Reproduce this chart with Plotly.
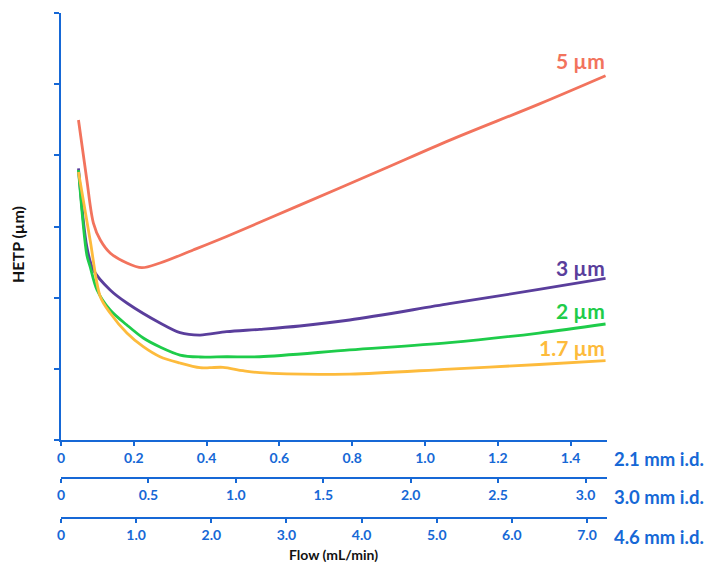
import plotly.graph_objects as go

# Flow on the 2.1 mm i.d. scale (mL/min) and HETP in relative units
flow_5 = [0.048, 0.071, 0.089, 0.108, 0.135, 0.181, 0.222, 0.272, 0.363, 0.455, 0.656, 0.883, 1.067, 1.313, 1.496]
hetp_5 = [4.496, 3.653, 3.049, 2.810, 2.628, 2.487, 2.421, 2.487, 2.670, 2.860, 3.300, 3.800, 4.210, 4.720, 5.119]

flow_3 = [0.048, 0.071, 0.089, 0.135, 0.181, 0.272, 0.327, 0.382, 0.455, 0.546, 0.656, 0.793, 1.067, 1.313, 1.496]
hetp_3 = [3.818, 2.716, 2.389, 2.108, 1.925, 1.644, 1.508, 1.475, 1.522, 1.555, 1.602, 1.686, 1.915, 2.115, 2.272]

flow_2 = [0.048, 0.071, 0.080, 0.099, 0.135, 0.181, 0.226, 0.272, 0.327, 0.382, 0.455, 0.546, 0.793, 1.067, 1.313, 1.496]
hetp_2 = [3.794, 2.599, 2.435, 2.108, 1.827, 1.616, 1.433, 1.307, 1.194, 1.166, 1.170, 1.170, 1.265, 1.367, 1.503, 1.630]

flow_17 = [0.048, 0.080, 0.108, 0.135, 0.181, 0.226, 0.272, 0.327, 0.382, 0.409, 0.445, 0.500, 0.546, 0.793, 1.067, 1.313, 1.496]
hetp_17 = [3.766, 2.810, 2.013, 1.784, 1.503, 1.311, 1.170, 1.082, 1.016, 1.016, 1.021, 0.974, 0.946, 0.927, 0.997, 1.061, 1.114]

series_names = ["5 µm", "3 µm", "2 µm", "1.7 µm"]
series_colors = ["#F2735D", "#5A3E9C", "#1ECC4A", "#FDBB3C"]

ticks_21 = [0, 0.2, 0.4, 0.6, 0.8, 1.0, 1.2, 1.4]
labels_21 = ["0", "0.2", "0.4", "0.6", "0.8", "1.0", "1.2", "1.4"]
ticks_30 = [0, 0.5, 1.0, 1.5, 2.0, 2.5, 3.0]
labels_30 = ["0", "0.5", "1.0", "1.5", "2.0", "2.5", "3.0"]
ticks_46 = [0, 1, 2, 3, 4, 5, 6, 7]
labels_46 = ["0", "1.0", "2.0", "3.0", "4.0", "5.0", "6.0", "7.0"]
axis_names = ["2.1 mm i.d.", "3.0 mm i.d.", "4.6 mm i.d."]
y_ticks = [0, 1, 2, 3, 4, 5, 6]

BLUE = "#1668D6"
FONT = "Lato"

fig = go.Figure()
for fx, hy, name, col in zip([flow_5, flow_3, flow_2, flow_17],
                             [hetp_5, hetp_3, hetp_2, hetp_17],
                             series_names, series_colors):
    fig.add_trace(go.Scatter(x=fx, y=hy, mode="lines", name=name,
                             line=dict(color=col, width=2.8, shape="spline", smoothing=0.9),
                             showlegend=False, hoverinfo="skip"))

# helper traces so the extra flow scales render
fig.add_trace(go.Scatter(x=ticks_30, y=[None] * len(ticks_30), xaxis="x2", yaxis="y",
                         mode="markers", showlegend=False, hoverinfo="skip"))
fig.add_trace(go.Scatter(x=ticks_46, y=[None] * len(ticks_46), xaxis="x3", yaxis="y",
                         mode="markers", showlegend=False, hoverinfo="skip"))

H = 562
T, B = 13, 20
ph = H - T - B

def py(pix):
    return (H - B - pix) / ph

tickfont = dict(family=FONT, size=14, color=BLUE, weight="bold")
common = dict(showgrid=False, zeroline=False, showline=True, linecolor=BLUE, linewidth=2,
              ticks="outside", ticklen=4, tickwidth=2, tickcolor=BLUE, tickfont=tickfont)

fig.update_layout(
    width=710, height=H,
    margin=dict(l=61, r=103, t=T, b=B),
    paper_bgcolor="white", plot_bgcolor="white",
    xaxis=dict(range=[0, 1.5], tickvals=ticks_21, ticktext=labels_21, anchor="y", **common),
    xaxis2=dict(range=[0, 3.123], tickvals=ticks_30, ticktext=labels_30, overlaying="x",
                anchor="free", position=py(478), **common),
    xaxis3=dict(range=[0, 7.266], tickvals=ticks_46, ticktext=labels_46, overlaying="x",
                anchor="free", position=py(518), **common),
    yaxis=dict(range=[0, 6], tickvals=y_ticks, showticklabels=False, domain=[py(440), 1],
               showgrid=False, zeroline=False, showline=True, linecolor=BLUE, linewidth=2,
               ticks="outside", ticklen=5, tickwidth=2, tickcolor=BLUE),
)

# curve labels
for name, col, ypix in zip(series_names, series_colors, [61, 267, 310, 347]):
    fig.add_annotation(text=name, x=1.0, xref="paper", xanchor="right",
                       y=py(ypix), yref="paper", yanchor="middle", showarrow=False,
                       font=dict(family=FONT, size=21, color=col, weight="bold"))

# column i.d. labels
for name, ypix in zip(axis_names, [459, 497, 537]):
    fig.add_annotation(text=name, x=(612 - 61) / 546, xref="paper", xanchor="left",
                       y=py(ypix), yref="paper", yanchor="middle", showarrow=False,
                       font=dict(family=FONT, size=18.5, color=BLUE, weight="bold"))

fig.add_annotation(text="Flow (mL/min)", x=(333 - 61) / 546, xref="paper", xanchor="center",
                   y=py(554), yref="paper", yanchor="middle", showarrow=False,
                   font=dict(family=FONT, size=14, color="#111111", weight="bold"))
fig.add_annotation(text="HETP (µm)", x=(18 - 61) / 546, xref="paper", xanchor="center",
                   y=py(245), yref="paper", yanchor="middle", showarrow=False, textangle=-90,
                   font=dict(family=FONT, size=16, color="#111111", weight="bold"))

fig.write_html("out.html", config={"displayModeBar": False},
               post_script="document.body.style.margin='0px';")
